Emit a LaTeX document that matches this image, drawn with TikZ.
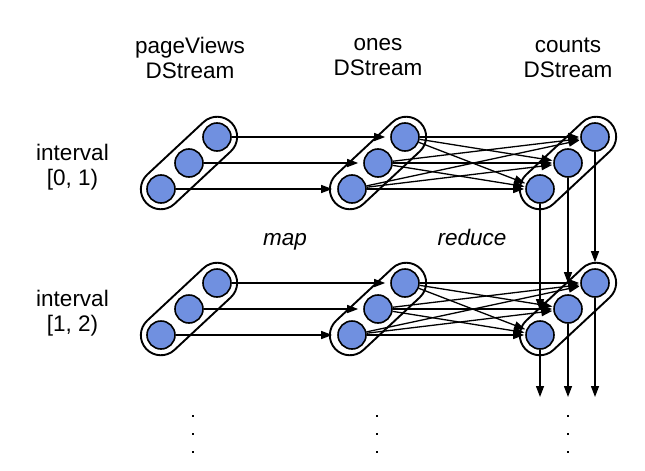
\documentclass[tikz,border=0pt]{standalone}
\usepackage{fontspec}
\setmainfont{Liberation Sans}
\usetikzlibrary{arrows.meta,shapes.misc}
\definecolor{ballblue}{RGB}{112,144,224}
\begin{document}
\begin{tikzpicture}[x=1pt,y=-1pt,
  ball/.style={circle,draw,fill=ballblue,line width=1.6pt,minimum size=28pt,inner sep=0pt},
  capsule/.style={rounded rectangle,draw,fill=white,line width=1.9pt,minimum width=117pt,minimum height=40pt,inner sep=0pt,rotate=43},
  arr/.style={-{Triangle[length=11pt,width=8pt]},line width=1.3pt},
  lbl/.style={font=\fontsize{22.5}{25}\selectfont,align=center,inner sep=0pt},
  itl/.style={font=\fontsize{22.5}{25}\selectfont\itshape,inner sep=0pt,anchor=base}]
\useasboundingbox (0,0) rectangle (645,471);

% titles
\node[lbl] (tp) at (190,57.5) {pageViews\\DStream};
\node[lbl] (to) at (378,57.5) {ones\\DStream};
\node[lbl] (tc) at (568,57.5) {counts\\DStream};
\node[lbl] (int1) at (72.5,167.5) {interval\\{}[0, 1)};
\node[lbl] (int2) at (72.5,313.5) {interval\\{}[1, 2)};
\node[itl] (map) at (285,245) {map};
\node[itl] (red) at (472,245) {reduce};

\foreach \r/\dy in {1/0,2/146}{
  \node[capsule] (pcap\r) at (189,163+\dy) {};
  \node[capsule] (ocap\r) at (378,163+\dy) {};
  \node[capsule] (ccap\r) at (568,163+\dy) {};
  \node[ball] (pa\r) at (161,189+\dy) {};
  \node[ball] (pb\r) at (189,163+\dy) {};
  \node[ball] (pc\r) at (217,137+\dy) {};
  \node[ball] (oa\r) at (352,189+\dy) {};
  \node[ball] (ob\r) at (378,163+\dy) {};
  \node[ball] (oc\r) at (405,137+\dy) {};
  \node[ball] (ca\r) at (540,189+\dy) {};
  \node[ball] (cb\r) at (568,163+\dy) {};
  \node[ball] (cc\r) at (595,137+\dy) {};
  % map arrows
  \foreach \k in {a,b,c}{
    \draw[arr,shorten >=5pt] (p\k\r) -- (o\k\r);
  }
  % reduce arrows
  \foreach \i in {a,b,c}{
    \foreach \j in {a,b,c}{
      \draw[arr,shorten >=1pt] (o\i\r) -- (c\j\r);
    }
  }
}

% vertical arrows between intervals
\draw[arr,shorten >=10pt] (ca1) -- (ca2);
\draw[arr,shorten >=11pt] (cb1) -- (cb2);
\draw[arr,shorten >=6pt] (cc1) -- (cc2);

% outgoing arrows
\coordinate (ea) at (540,397);
\coordinate (eb) at (568,397);
\coordinate (ec) at (595,397);
\draw[arr] (ca2) -- (ea);
\draw[arr] (cb2) -- (eb);
\draw[arr] (cc2) -- (ec);

% dots
\foreach \x in {193,377,568}{
  \foreach \y in {416,434,452}{
    \fill (\x-1.3,\y-1.3) rectangle (\x+1.3,\y+1.3);
  }
}
\end{tikzpicture}
\end{document}
